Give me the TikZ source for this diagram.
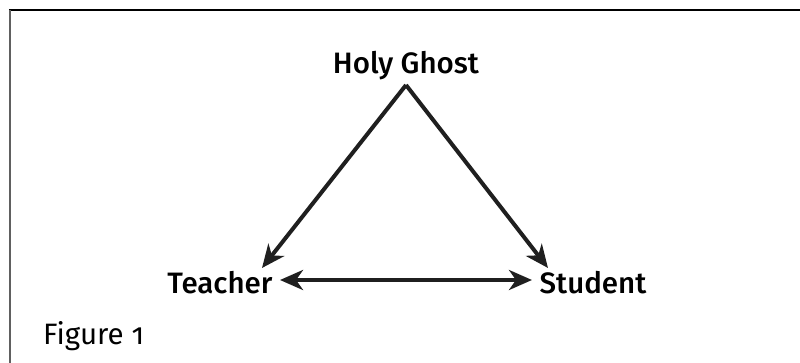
\documentclass[tikz,border=0pt]{standalone}
\usepackage{fontspec}
\setmainfont{Fira Sans}[Numbers=OldStyle]
\newfontfamily\labelfont{Fira Sans Medium}
\usetikzlibrary{arrows.meta}

\tikzset{
  label/.style={font=\labelfont\fontsize{29.5}{34}\selectfont,inner sep=0pt,anchor=base},
  link/.style={line width=4pt,color=black!88},
}

\begin{document}
\begin{tikzpicture}[x=1pt,y=-1pt,>={Stealth[length=23pt,width=20pt,inset=7pt]}]
  \useasboundingbox (0,0) rectangle (800,363);
  % frame
  \draw[line width=2.5pt] (8.8,10) -- (800,10);
  \draw[line width=2.5pt,gray!75!black] (10,10) -- (10,363);
  % the three parties
  \node[label] (ghost) at (406,74) {Holy Ghost};
  \node[label] (teacher) at (220,294) {Teacher};
  \node[label] (student) at (593,294) {Student};
  \coordinate (apex) at (406,85);
  \coordinate (tTip) at (262,268);
  \coordinate (sTip) at (548,268);
  \coordinate (tEnd) at (280,280);
  \coordinate (sEnd) at (532,280);
  \draw[link,->] (apex) -- (tTip);
  \draw[link,->] (apex) -- (sTip);
  \draw[link,<->] (tEnd) -- (sEnd);
  \node[font=\fontsize{29.5}{34}\selectfont,inner sep=0pt,anchor=base west] (caption) at (43,344) {Figure 1};
\end{tikzpicture}
\end{document}
